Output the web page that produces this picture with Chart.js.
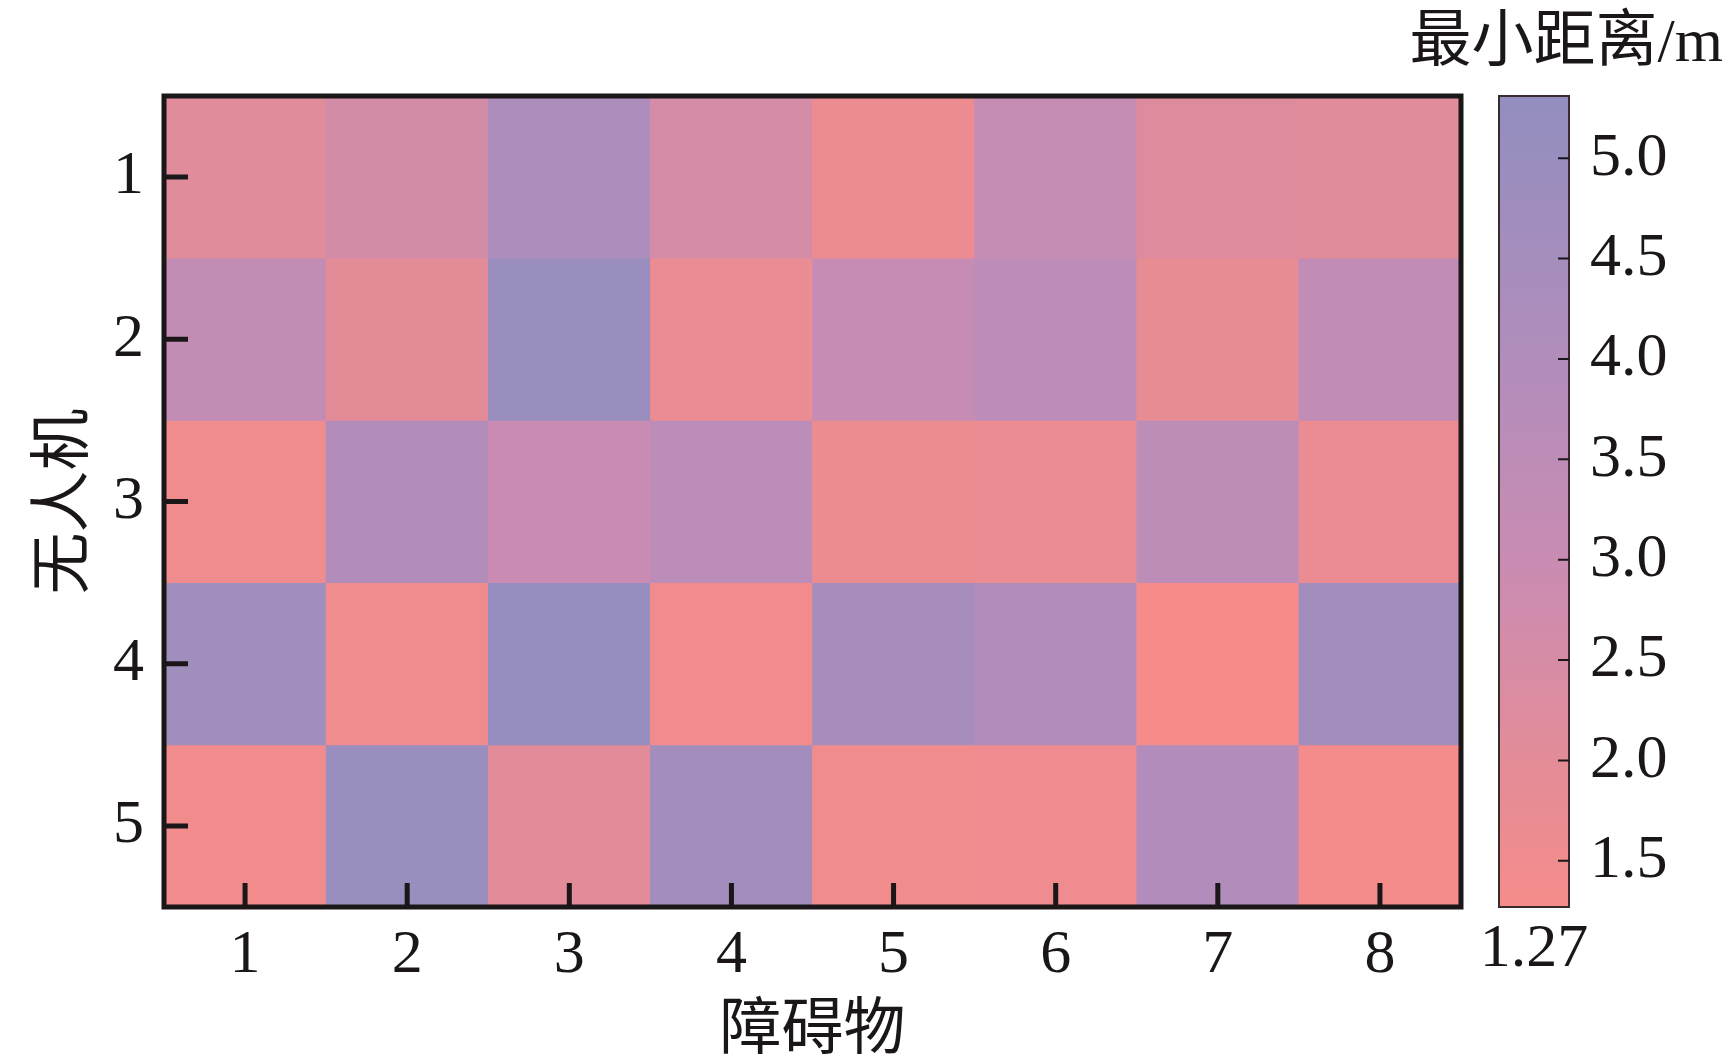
<!DOCTYPE html>
<html>
<head>
<meta charset="utf-8">
<script src="https://cdn.jsdelivr.net/npm/chart.js@4.4.0/dist/chart.umd.min.js"></script>
<style>
  html, body { margin: 0; padding: 0; background: #fff; }
  #wrap { position: relative; width: 1733px; height: 1060px; }
  #heat { position: absolute; left: 0; top: 0; }
  #bar { position: absolute; left: 1380px; top: 0; }
</style>
</head>
<body>
<div id="wrap">
  <canvas id="heat" width="1480" height="1060"></canvas>
  <canvas id="bar" width="353" height="1060"></canvas>
</div>
<script>
// obstacles along x, UAVs along y
const obstacles = ['1', '2', '3', '4', '5', '6', '7', '8'];
const uavs = [1, 2, 3, 4, 5];

// minimum distance (m), one array per UAV
const uav1 = [2.10, 2.60, 4.20, 2.55, 1.60, 3.15, 2.20, 2.10];
const uav2 = [3.30, 2.00, 5.00, 1.70, 3.10, 3.60, 1.80, 3.35];
const uav3 = [1.50, 3.90, 2.95, 3.60, 1.65, 1.70, 3.55, 1.70];
const uav4 = [4.70, 1.50, 5.20, 1.40, 4.45, 3.90, 1.27, 4.65];
const uav5 = [1.40, 5.00, 2.05, 4.65, 1.45, 1.55, 3.95, 1.32];
const distance = [uav1, uav2, uav3, uav4, uav5];

// colour bar range and ticks
const vMin = 1.27;
const vMax = 5.31;
const barTicks = [1.5, 2.0, 2.5, 3.0, 3.5, 4.0, 4.5, 5.0];

// colormap stops
const cmapValues = [1.27, 2.0, 3.0, 4.0, 5.31];
const cmapColors = ['#F58C8A', '#E38C98', '#C98CB3', '#B18DBB', '#928EBF'];

const INK = '#1b1718';
const SERIF = '"Liberation Serif", "Times New Roman", "Noto Sans CJK SC", serif';
const FS = 62;

function hexRgb(h) {
    return [1, 3, 5].map(i => parseInt(h.slice(i, i + 2), 16));
}

function colorFor(v) {
    let i = 0;
    while (i < cmapValues.length - 2 && v > cmapValues[i + 1]) i++;
    const t = Math.min(1, Math.max(0, (v - cmapValues[i]) / (cmapValues[i + 1] - cmapValues[i])));
    const a = hexRgb(cmapColors[i]), b = hexRgb(cmapColors[i + 1]);
    const c = a.map((x, k) => Math.round(x + (b[k] - x) * t));
    return `rgb(${c[0]}, ${c[1]}, ${c[2]})`;
}

// frame and inward ticks of the heatmap
const framePlugin = {
    id: 'frame',
    afterDatasetsDraw(chart) {
        const {ctx, chartArea: a, scales: {x, y}} = chart;
        ctx.save();
        ctx.strokeStyle = INK;
        ctx.lineWidth = 5;
        ctx.beginPath();
        obstacles.forEach((_, i) => {
            const px = x.getPixelForTick(i);
            ctx.moveTo(px, a.bottom);
            ctx.lineTo(px, a.bottom - 24);
        });
        uavs.forEach(v => {
            const py = y.getPixelForValue(v);
            ctx.moveTo(a.left, py);
            ctx.lineTo(a.left + 24, py);
        });
        ctx.stroke();
        ctx.strokeRect(a.left, a.top, a.right - a.left, a.bottom - a.top);
        ctx.restore();
    }
};

new Chart(document.getElementById('heat'), {
    type: 'bar',
    data: {
        labels: obstacles,
        datasets: uavs.map((u, r) => ({
            data: obstacles.map(() => [u - 0.5, u + 0.5]),
            backgroundColor: distance[r].map(colorFor),
            grouped: false,
            barPercentage: 1,
            categoryPercentage: 1,
            borderWidth: 0
        }))
    },
    options: {
        responsive: false,
        animation: false,
        layout: { padding: { left: 0, top: 96, right: 19, bottom: 0 } },
        plugins: { legend: { display: false }, tooltip: { enabled: false } },
        scales: {
            x: {
                type: 'category',
                offset: true,
                grid: { display: false },
                border: { display: false },
                afterFit: s => { s.height = 153; },
                ticks: { color: INK, font: { family: SERIF, size: FS }, padding: 4 },
                title: {
                    display: true, text: '障碍物', color: INK,
                    font: { family: SERIF, size: FS, lineHeight: 1 },
                    padding: { top: 0, bottom: -4 }
                }
            },
            y: {
                type: 'linear',
                min: 0.5,
                max: 5.5,
                reverse: true,
                afterBuildTicks: s => { s.ticks = uavs.map(v => ({ value: v })); },
                afterFit: s => { s.width = 164; },
                grid: { display: false },
                border: { display: false },
                ticks: { color: INK, font: { family: SERIF, size: FS }, padding: 12, callback: v => String(v) },
                title: {
                    display: true, text: '无人机', color: INK,
                    font: { family: SERIF, size: FS, lineHeight: 1 },
                    padding: { top: 36, bottom: 0 }
                }
            }
        }
    },
    plugins: [framePlugin]
});

// colour bar: border, ticks, min label and unit title
const barPlugin = {
    id: 'barDecor',
    afterDatasetsDraw(chart) {
        const {ctx, chartArea: a, scales: {y}} = chart;
        ctx.save();
        ctx.strokeStyle = '#3a2c2c';
        ctx.lineWidth = 2;
        ctx.strokeRect(a.left, a.top, a.right - a.left, a.bottom - a.top);
        ctx.strokeStyle = INK;
        ctx.beginPath();
        barTicks.forEach(v => {
            const py = y.getPixelForValue(v);
            ctx.moveTo(a.right, py);
            ctx.lineTo(a.right - 11, py);
        });
        ctx.stroke();
        ctx.fillStyle = INK;
        ctx.font = `${FS}px ${SERIF}`;
        ctx.textAlign = 'center';
        ctx.textBaseline = 'middle';
        ctx.fillText(vMin.toFixed(2), (a.left + a.right) / 2, a.bottom + 43);
        ctx.textAlign = 'right';
        ctx.fillText('最小距离/m', chart.width - 10, a.top - 51);
        ctx.restore();
    }
};

new Chart(document.getElementById('bar'), {
    type: 'bar',
    data: {
        labels: [''],
        datasets: [{
            data: [[vMin, vMax]],
            barPercentage: 1,
            categoryPercentage: 1,
            borderWidth: 0,
            backgroundColor: c => {
                const area = c.chart.chartArea;
                if (!area) return cmapColors[0];
                // vMin sits at the bottom of the bar, vMax at the top
                const g = c.chart.ctx.createLinearGradient(0, area.bottom, 0, area.top);
                cmapValues.forEach((v, i) => g.addColorStop((v - vMin) / (vMax - vMin), cmapColors[i]));
                return g;
            }
        }]
    },
    options: {
        responsive: false,
        animation: false,
        layout: { padding: { left: 119, top: 96, right: 0, bottom: 153 } },
        plugins: { legend: { display: false }, tooltip: { enabled: false } },
        scales: {
            x: { display: false },
            y: {
                position: 'right',
                min: vMin,
                max: vMax,
                afterBuildTicks: s => { s.ticks = barTicks.map(v => ({ value: v })); },
                afterFit: s => { s.width = 164; },
                grid: { display: false },
                border: { display: false },
                ticks: { color: INK, font: { family: SERIF, size: FS }, padding: 13, callback: v => v.toFixed(1) }
            }
        }
    },
    plugins: [barPlugin]
});
</script>
</body>
</html>
